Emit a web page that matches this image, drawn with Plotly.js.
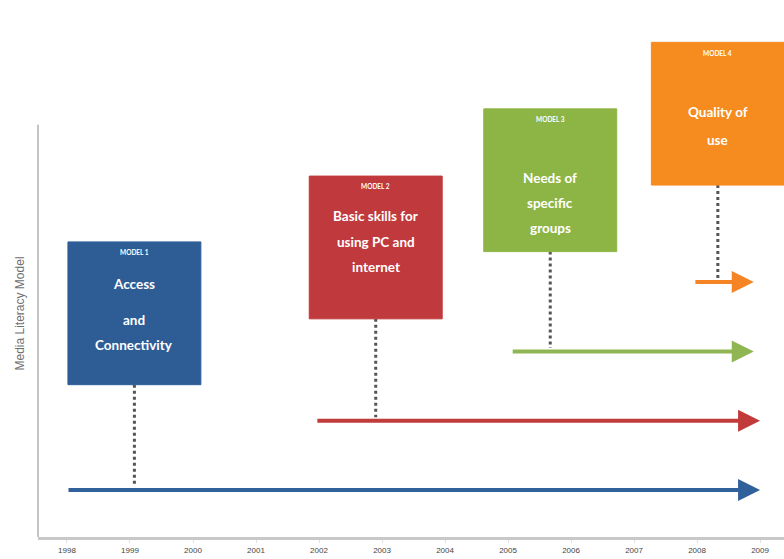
<!DOCTYPE html>
<html>
<head>
<meta charset="utf-8">
<script src="https://cdn.plot.ly/plotly-3.0.1.min.js"></script>
<style>html,body{margin:0;padding:0;background:#fff;}#chart{width:784px;height:559px;}</style>
</head>
<body>
<div id="chart"></div>
<script>
// ---- data ----
const years = [1998, 1999, 2000, 2001, 2002, 2003, 2004, 2005, 2006, 2007, 2008, 2009];
const modelLabels = ['MODEL 1', 'MODEL 2', 'MODEL 3', 'MODEL 4'];
const modelLines = [
  ['Access', 'and', 'Connectivity'],
  ['Basic skills for', 'using PC and', 'internet'],
  ['Needs of', 'specific', 'groups'],
  ['Quality of', 'use']
];
const startYear = [1998, 2001.95, 2005.05, 2007.95];
const endYear = [2009, 2009, 2008.9, 2008.9];
const milestoneYear = [1999.07, 2002.9, 2005.67, 2008.33];
const level = [1, 2, 3, 4];
const boxBase = [2.52, 3.47, 4.44, 5.40];

// ---- styles ----
const boxColors = ['#2e5d96', '#c0393c', '#8db545', '#f68b1f'];
const arrowColors = ['#31619b', '#c23b3b', '#8fb653', '#f58424'];
const PX = 69.3;              // pixels per y unit
const boxW = 2.11;            // box width in years
const boxH = 2.06;            // box height in y units
const lineOffsets = [[42, 78, 103], [40, 66, 91], [69, 94, 119], [70, 98]];
const labelOffset = [11, 10, 11, 11];

const shapes = [];
const annotations = [];

// y axis line
shapes.push({type:'line', xref:'paper', yref:'y', x0:0, x1:0, y0:0.322, y1:6.27,
  line:{color:'#c4c4c4', width:2}});

for (let i = 0; i < modelLabels.length; i++) {
  const cx = milestoneYear[i];
  const top = boxBase[i] + boxH;
  // dotted connector
  shapes.push({type:'line', xref:'x', yref:'y', x0:cx, x1:cx, y0:boxBase[i], y1:level[i] + 0.05,
    line:{color:'#555555', width:3, dash:'dot'}});
  // box
  shapes.push({type:'rect', xref:'x', yref:'y', x0:cx - boxW/2, x1:cx + boxW/2, y0:boxBase[i], y1:top,
    fillcolor:boxColors[i], line:{color:boxColors[i], width:1}, layer:'above'});
  // arrow
  annotations.push({x:endYear[i], y:level[i], ax:startYear[i], ay:level[i],
    xref:'x', yref:'y', axref:'x', ayref:'y', text:'', showarrow:true,
    arrowhead:2, arrowsize:1.1, arrowwidth:4, arrowcolor:arrowColors[i]});
  // model label
  annotations.push({x:cx, y:top - labelOffset[i]/PX, xref:'x', yref:'y', text:'<b>' + modelLabels[i] + '</b>',
    showarrow:false, yanchor:'middle', font:{family:'Lato, Liberation Sans, sans-serif', size:6.5, color:'#ffffff'}});
  // main lines
  modelLines[i].forEach((t, j) => {
    annotations.push({x:cx, y:top - lineOffsets[i][j]/PX, xref:'x', yref:'y', text:'<b>' + t + '</b>',
      showarrow:false, yanchor:'middle', font:{family:'Lato, Liberation Sans, sans-serif', size:13.5, color:'#ffffff'}});
  });
}

// y axis title
annotations.push({x:18.5/746 * -1, y:(0.322 + (537-314)/PX), xref:'paper', yref:'y', text:'Media Literacy Model',
  textangle:-90, showarrow:false, xanchor:'center', yanchor:'middle',
  font:{family:'Liberation Sans, sans-serif', size:12, color:'#707070'}});

const layout = {
  width:784, height:559,
  margin:{l:38, r:0, t:0, b:22},
  paper_bgcolor:'#ffffff', plot_bgcolor:'#ffffff',
  showlegend:false,
  xaxis:{range:[1997.54, 2009.38], tickvals:years, ticktext:years.map(String),
    showgrid:false, zeroline:false, showline:true, linecolor:'#c8c8c8', linewidth:3,
    ticks:'outside', ticklen:3, tickcolor:'#e0e0e0', tickwidth:1,
    tickfont:{family:'Liberation Sans, sans-serif', size:8, color:'#444444'}, fixedrange:true},
  yaxis:{range:[0.322, 0.322 + 537/PX], showgrid:false, zeroline:false, showline:false,
    showticklabels:false, ticks:'', fixedrange:true},
  shapes:shapes,
  annotations:annotations
};

Plotly.newPlot('chart', [{x:[years[0]], y:[level[0]], mode:'markers', marker:{opacity:0}, hoverinfo:'skip'}], layout, {displayModeBar:false, staticPlot:true});
</script>
</body>
</html>
